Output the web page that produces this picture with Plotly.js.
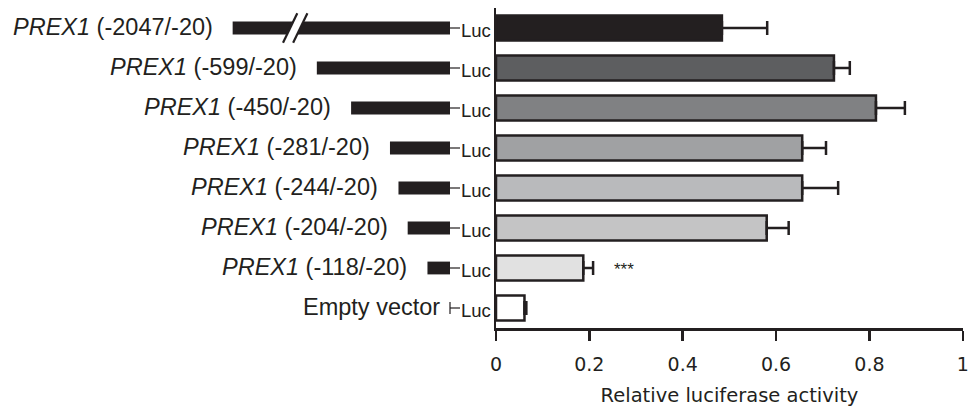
<!DOCTYPE html>
<html><head><meta charset="utf-8">
<script src="https://cdn.plot.ly/plotly-3.0.1.min.js"></script>
<style>html,body{margin:0;padding:0;background:#fff;}#chart{width:968px;height:408px;}</style>
</head><body><div id="chart"></div>
<script>
// ---- data ----
const constructs = ['PREX1 (-2047/-20)', 'PREX1 (-599/-20)', 'PREX1 (-450/-20)', 'PREX1 (-281/-20)',
                    'PREX1 (-244/-20)', 'PREX1 (-204/-20)', 'PREX1 (-118/-20)', 'Empty vector'];
const promoterStart = [-2047, -599, -450, -281, -244, -204, -118, null];
const promoterEnd = -20;
const activity = [0.484, 0.724, 0.814, 0.656, 0.656, 0.580, 0.187, 0.061];
const errorPlus = [0.097, 0.034, 0.062, 0.051, 0.077, 0.047, 0.021, 0.004];
const barColors = ['#231f20', '#5d5e60', '#808183', '#a0a1a3', '#b9babc', '#c4c4c5', '#e1e1e1', '#ffffff'];
const significance = ['', '', '', '', '', '', '***', ''];
const xTicks = [0, 0.2, 0.4, 0.6, 0.8, 1];
const xTickLabels = ['0', '0.2', '0.4', '0.6', '0.8', '1'];
const xTitle = 'Relative luciferase activity';
const reporter = 'Luc';

// ---- styling / layout helpers ----
const ink = '#231f20';
const rows = constructs.map((_, i) => i);
const breakLimit = -965;          // schematic axis break for long constructs
const breakMark = -693;           // where the // break symbol sits
const pxPerBp = 0.23;             // schematic scale
const lucX = promoterEnd + 10 / pxPerBp;
const W = 963;                    // plot-area width (margin l=0, r=5)

const hasPromoter = promoterStart.map(s => s !== null);
const schemRows = rows.filter(i => hasPromoter[i]);
const dispStart = schemRows.map(i => Math.max(promoterStart[i], breakLimit));

const barTrace = {
  type: 'bar', orientation: 'h', x: activity, y: rows, width: 0.63,
  marker: {color: barColors, line: {color: ink, width: 2.5}},
  error_x: {type: 'data', symmetric: false, array: errorPlus, arrayminus: activity.map(() => 0),
            color: ink, thickness: 2.5, width: 7},
  hoverinfo: 'x', showlegend: false
};

const schemTrace = {
  type: 'bar', orientation: 'h', xaxis: 'x2', yaxis: 'y',
  y: schemRows, base: dispStart, x: dispStart.map(s => promoterEnd - s), width: 0.32,
  marker: {color: ink, line: {width: 0}}, hoverinfo: 'skip', showlegend: false
};

// connector lines to Luc, plus the vertical tick for the empty vector
const cx = [], cy = [];
rows.forEach(i => {
  cx.push(promoterEnd, lucX, null); cy.push(i, i, null);
  if (!hasPromoter[i]) { cx.push(promoterEnd, promoterEnd, null); cy.push(i - 0.15, i + 0.15, null); }
});
const connTrace = {
  type: 'scatter', mode: 'lines', xaxis: 'x2', yaxis: 'y', x: cx, y: cy,
  line: {color: ink, width: 1.2}, hoverinfo: 'skip', showlegend: false
};

const annotations = [];
rows.forEach(i => {
  const label = constructs[i].replace(/^PREX1/, '<i>PREX1</i>');
  annotations.push({
    xref: 'x2', yref: 'y', x: hasPromoter[i] ? Math.max(promoterStart[i], breakLimit) : promoterEnd,
    y: i, xanchor: 'right', yanchor: 'middle', xshift: hasPromoter[i] ? -18 : -8, yshift: 1,
    text: label, showarrow: false,
    font: {family: 'Liberation Sans, Arial, sans-serif', size: 23.5, color: ink}
  });
  annotations.push({
    xref: 'x2', yref: 'y', x: lucX, y: i, xanchor: 'left', yanchor: 'middle', xshift: -1.5, yshift: -2,
    text: reporter, showarrow: false,
    font: {family: 'Liberation Sans, Arial, sans-serif', size: 18.5, color: ink}
  });
  if (significance[i]) {
    annotations.push({
      xref: 'x', yref: 'y', x: activity[i] + errorPlus[i], y: i, xanchor: 'left', yanchor: 'middle',
      xshift: 19, yshift: -1, text: significance[i], showarrow: false,
      font: {family: 'Liberation Sans, Arial, sans-serif', size: 17, color: ink}
    });
  }
});

// axis-break marks on the first schematic
const gap = 22, slant = 31, hy = 0.37, fy = 0.2;
const lx = (off, y) => breakMark + off - slant * y / hy;
const pt = (x, y) => x + ',' + y;
const shapes = [
  {type: 'path', xref: 'x2', yref: 'y', layer: 'above',
   path: 'M' + pt(lx(-gap, fy), fy) + ' L' + pt(lx(gap, fy), fy) +
         ' L' + pt(lx(gap, -fy), -fy) + ' L' + pt(lx(-gap, -fy), -fy) + ' Z',
   fillcolor: '#ffffff', line: {width: 0}},
  {type: 'line', xref: 'x2', yref: 'y', layer: 'above', x0: lx(-gap, hy), y0: hy, x1: lx(-gap, -hy), y1: -hy,
   line: {color: ink, width: 2.2}},
  {type: 'line', xref: 'x2', yref: 'y', layer: 'above', x0: lx(gap, hy), y0: hy, x1: lx(gap, -hy), y1: -hy,
   line: {color: ink, width: 2.2}}
];

const layout = {
  width: 968, height: 408,
  margin: {l: 0, r: 5, t: 8, b: 80},
  paper_bgcolor: '#ffffff', plot_bgcolor: 'rgba(0,0,0,0)',
  barmode: 'overlay', showlegend: false,
  font: {family: 'Liberation Sans, Arial, sans-serif', color: ink},
  xaxis: {
    domain: [496 / W, 1], range: [0, 1.0005], anchor: 'y',
    tickmode: 'array', tickvals: xTicks, ticktext: xTickLabels,
    ticks: 'outside', ticklen: 10, tickwidth: 2.5, tickcolor: ink,
    showline: true, linewidth: 2.5, linecolor: ink, showgrid: false, zeroline: false,
    tickfont: {family: 'DejaVu Sans, sans-serif', size: 19, color: ink}, ticklabelstandoff: 8,
    ticklabeloverflow: 'allow',
    title: {text: xTitle, standoff: 14, font: {family: 'DejaVu Sans, sans-serif', size: 19.5, color: ink}}
  },
  xaxis2: {
    domain: [0, 490 / W], range: [promoterEnd - 450 / pxPerBp, promoterEnd + 40 / pxPerBp],
    anchor: 'y', visible: false, showgrid: false, zeroline: false, fixedrange: true
  },
  yaxis: {
    range: [7.5, -0.5], anchor: 'x', showline: true, linewidth: 2.5, linecolor: ink,
    showticklabels: false, ticks: '', showgrid: false, zeroline: false
  },
  annotations: annotations,
  shapes: shapes
};

Plotly.newPlot('chart', [barTrace, schemTrace, connTrace], layout, {displayModeBar: false, staticPlot: true});
</script>
</body></html>
